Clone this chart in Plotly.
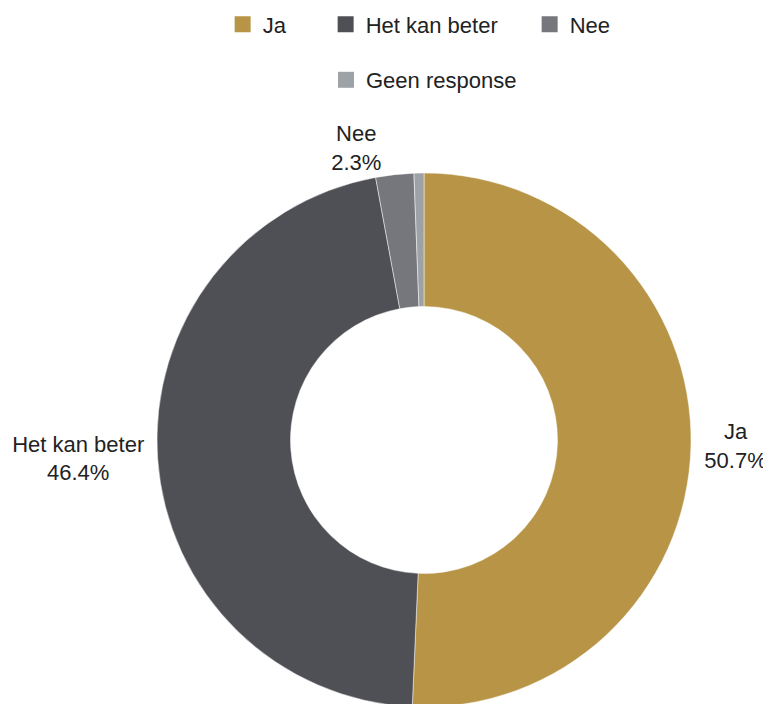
import plotly.graph_objects as go

labels = ["Ja", "Het kan beter", "Nee", "Geen response"]
values = [50.7, 46.4, 2.3, 0.6]
colors = ["#B89546", "#4F5055", "#76777C", "#9DA2A7"]
show_text = [True, True, True, False]
legend_rows = ["legend", "legend", "legend", "legend2"]
legend_widths = [58, 159, None, None]

FONT = "Liberation Sans, Arial, sans-serif"
TXT = "#222222"

texttemplate = ["%{label}<br>%{percent:.1%}" if s else "" for s in show_text]

fig = go.Figure()
fig.add_trace(go.Pie(
    labels=labels,
    values=values,
    hole=0.5,
    sort=False,
    direction="clockwise",
    rotation=0,
    marker=dict(colors=colors, line=dict(color="rgba(255,255,255,0.6)", width=0.8)),
    texttemplate=texttemplate,
    textposition="outside",
    textfont=dict(family=FONT, size=22, color=TXT),
    showlegend=False,
    automargin=False,
    domain=dict(x=[0, 1], y=[0, 1]),
))

# legend entries (row 1 in legend, row 2 in legend2)
for lab, col, lg, lw in zip(labels, colors, legend_rows, legend_widths):
    kw = {}
    if lw is not None:
        kw["legendwidth"] = lw
    fig.add_trace(go.Scatter(
        x=[None], y=[None], mode="markers", name=lab,
        marker=dict(symbol="square", size=16, color=col),
        legend=lg, hoverinfo="skip", **kw,
    ))

fig.update_layout(
    width=771, height=704,
    margin=dict(l=69, r=8, t=165, b=5, autoexpand=False),
    paper_bgcolor="white", plot_bgcolor="white",
    font=dict(family=FONT, size=22, color=TXT),
    xaxis=dict(visible=False), yaxis=dict(visible=False),
    legend=dict(orientation="h", x=0.493, xanchor="center", y=1.3175, yanchor="top",
                font=dict(family=FONT, size=22, color=TXT), itemclick=False, itemdoubleclick=False),
    legend2=dict(orientation="h", x=0.5, xanchor="center", y=1.2135, yanchor="top",
                 font=dict(family=FONT, size=22, color=TXT), itemclick=False, itemdoubleclick=False),
)

fig.write_html("out.html")
